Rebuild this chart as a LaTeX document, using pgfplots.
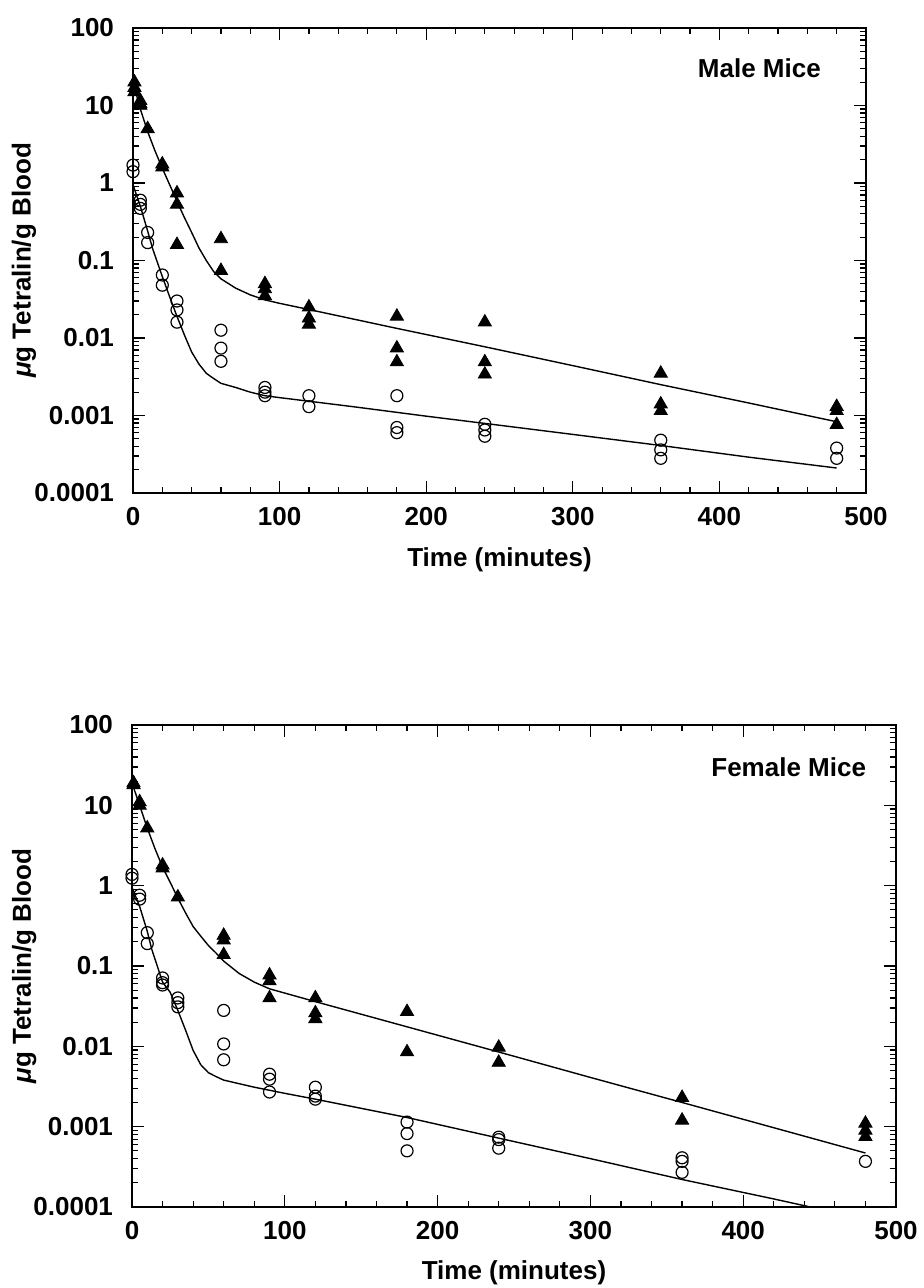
\documentclass[border=0pt]{standalone}
\usepackage{pgfplots}
\pgfplotsset{compat=1.18}
\usepackage{fontspec}
\setmainfont{Liberation Sans}
\pgfplotsset{
 mystyle/.style={
  scale only axis,
  xmin=0, xmax=500, ymin=1e-4, ymax=100,
  xtick={0,100,200,300,400,500}, xticklabels={0,100,200,300,400,500},
  minor x tick num=4,
  ytick={1e-4,1e-3,1e-2,1e-1,1,10,100},
  yticklabels={0.0001,0.001,0.01,0.1,1,10,100},
  minor ytick={2e-4,3e-4,4e-4,5e-4,6e-4,7e-4,8e-4,9e-4,2e-3,3e-3,4e-3,5e-3,6e-3,7e-3,8e-3,9e-3,2e-2,3e-2,4e-2,5e-2,6e-2,7e-2,8e-2,9e-2,0.2,0.3,0.4,0.5,0.6,0.7,0.8,0.9,2,3,4,5,6,7,8,9,20,30,40,50,60,70,80,90},
  tick label style={font=\fontsize{13}{15}\selectfont\bfseries},
  label style={font=\fontsize{13}{15}\selectfont\bfseries},
  xticklabel style={yshift=-3.5pt},
  yticklabel style={xshift=-6pt},
  major tick length=6pt, minor tick length=3pt,
  tick align=inside,
  axis line style={line width=0.9pt},
  every tick/.style={black, line width=0.6pt},
  xlabel={Time (minutes)},
  ylabel={{\itshape μ}g Tetralin/g Blood},
 },
 tri/.style={only marks, mark=triangle*, mark size=3.8pt, mark options={fill=black, draw=black}},
 circ/.style={only marks, mark=o, mark size=3pt, mark options={draw=black, line width=0.6pt}},
 fit/.style={no marks, black, line width=0.7pt},
}
\begin{document}
\begin{tikzpicture}
\path[use as bounding box] (0,0) rectangle (462pt,644pt);
% ---------------- Male ----------------
\begin{semilogyaxis}[mystyle, anchor=south west, at={(66.5pt,397.5pt)}, width=366.5pt, height=232.5pt,
  xlabel style={at={(axis description cs:0.5,-0.144)}, anchor=center},
  ylabel style={at={(axis description cs:-0.1487,0.5)}, anchor=center}]
\addplot[tri] coordinates {
 (1,20) (1,17) (1,15) (5,11.5) (5,10.5) (5,10) (10,5) (20,1.75) (20,1.6)
 (30,0.74) (30,0.53) (30,0.16) (60,0.19) (60,0.074)
 (90,0.05) (90,0.043) (90,0.035) (120,0.025) (120,0.018) (120,0.015)
 (180,0.019) (180,0.0074) (180,0.0049) (240,0.016) (240,0.0049) (240,0.0034)
 (360,0.0035) (360,0.0014) (360,0.00115) (480,0.0013) (480,0.00115) (480,0.00076)};
\addplot[circ] coordinates {
 (0,1.7) (0,1.4) (5,0.6) (5,0.53) (5,0.47) (10,0.23) (10,0.17)
 (20,0.065) (20,0.048) (30,0.030) (30,0.023) (30,0.016)
 (60,0.0126) (60,0.0074) (60,0.005) (90,0.0023) (90,0.002) (90,0.0018)
 (120,0.0018) (120,0.0013) (180,0.0018) (180,0.0007) (180,0.0006)
 (240,0.00077) (240,0.00065) (240,0.00054) (360,0.00048) (360,0.00036) (360,0.00028)
 (480,0.00038) (480,0.00028)};
\addplot[fit] coordinates {
 (0,20) (5,9) (10,4.6) (15,2.6) (20,1.55) (25,0.95) (30,0.58) (35,0.36) (40,0.23)
 (45,0.145) (50,0.1) (55,0.072) (60,0.058) (70,0.044) (80,0.036) (90,0.031) (100,0.028)
 (120,0.0233) (150,0.0176) (180,0.0133) (240,0.0077) (300,0.0044) (360,0.0025) (420,0.00145) (480,0.00083)};
\addplot[fit] coordinates {
 (0,0.95) (5,0.5) (10,0.24) (13.5,0.14) (20,0.062) (25,0.034) (30,0.019) (35,0.011) (40,0.0066)
 (45,0.0046) (50,0.0035) (55,0.003) (60,0.0026) (70,0.0023) (80,0.002) (90,0.0018) (100,0.0017)
 (150,0.0013) (200,0.00098) (240,0.00079) (300,0.00057) (360,0.00041) (420,0.00029) (480,0.00021)};
\node[anchor=east, font=\fontsize{13}{15}\selectfont\bfseries] at (axis description cs:0.948,0.914) {Male Mice};
\end{semilogyaxis}
% ---------------- Female ----------------
\begin{semilogyaxis}[mystyle, anchor=south west, at={(66pt,40.5pt)}, width=382pt, height=241pt,
  xlabel style={at={(axis description cs:0.5,-0.137)}, anchor=center},
  ylabel style={at={(axis description cs:-0.141,0.5)}, anchor=center}]
\addplot[tri] coordinates {
 (1,19) (1,18) (5,11) (5,10) (10,5.2) (20,1.8) (20,1.65) (30,0.72)
 (60,0.24) (60,0.21) (60,0.138) (90,0.077) (90,0.065) (90,0.040)
 (120,0.040) (120,0.026) (120,0.022) (180,0.027) (180,0.0085)
 (240,0.0097) (240,0.0063) (360,0.0023) (360,0.0012)
 (480,0.0011) (480,0.0009) (480,0.00075)};
\addplot[circ] coordinates {
 (0,1.38) (0,1.24) (5,0.76) (5,0.68) (10,0.26) (10,0.19)
 (20,0.071) (20,0.062) (20,0.058) (30,0.040) (30,0.035) (30,0.031)
 (60,0.028) (60,0.0107) (60,0.0068) (90,0.0045) (90,0.0039) (90,0.0027)
 (120,0.0031) (120,0.0024) (120,0.0022) (180,0.00114) (180,0.00082) (180,0.0005)
 (240,0.00074) (240,0.00069) (240,0.00054) (360,0.00041) (360,0.00037) (360,0.00027)
 (480,0.00037)};
\addplot[fit] coordinates {
 (0,19) (5,10) (10,5.2) (15,2.9) (20,1.7) (25,1.1) (30,0.7) (35,0.46) (40,0.31)
 (45,0.235) (50,0.18) (55,0.145) (60,0.115) (70,0.081) (80,0.063) (90,0.052) (100,0.046)
 (120,0.036) (180,0.0175) (240,0.0085) (300,0.0041) (360,0.0020) (420,0.00097) (480,0.00047)};
\addplot[fit] coordinates {
 (0,0.95) (5,0.55) (10,0.27) (13,0.16) (20,0.063) (25,0.047) (30,0.028) (35,0.016) (40,0.0089)
 (45,0.0059) (50,0.0047) (55,0.0042) (60,0.0038) (80,0.0031) (100,0.0026) (120,0.0022)
 (180,0.0013) (240,0.00072) (300,0.0004) (360,0.00022) (420,0.000126) (444,0.0001)};
\node[anchor=east, font=\fontsize{13}{15}\selectfont\bfseries] at (axis description cs:0.97,0.913) {Female Mice};
\end{semilogyaxis}
\end{tikzpicture}
\end{document}
